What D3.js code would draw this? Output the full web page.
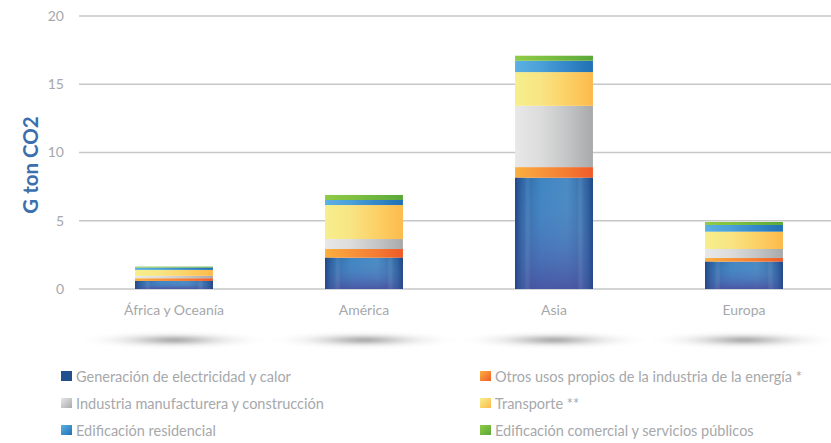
<!DOCTYPE html>
<html>
<head>
<meta charset="utf-8">
<script src="https://cdn.jsdelivr.net/npm/d3@7/dist/d3.min.js"></script>
<style>
  html, body { margin: 0; padding: 0; background: #fff; }
  svg { display: block; font-family: Lato, "Open Sans", sans-serif; }
</style>
</head>
<body>
<svg id="chart" width="831" height="443"></svg>
<script>
// Emisiones de CO2 por región y sector (G ton CO2)
const regions = ["África y Oceanía", "América", "Asia", "Europa"];
const sectors = [
  "Generación de electricidad y calor",
  "Otros usos propios de la industria de la energía *",
  "Industria manufacturera y construcción",
  "Transporte **",
  "Edificación residencial",
  "Edificación comercial y servicios públicos"
];
const electricidad = [0.59, 2.29, 8.15, 2.00];
const otrosEnergia = [0.20, 0.64, 0.78, 0.27];
const manufactura  = [0.17, 0.73, 4.49, 0.66];
const transporte   = [0.44, 2.49, 2.47, 1.27];
const residencial  = [0.17, 0.37, 0.83, 0.49];
const comercial    = [0.07, 0.37, 0.37, 0.22];
const yTicks = [0, 5, 10, 15, 20];

const series = [electricidad, otrosEnergia, manufactura, transporte, residencial, comercial];

// colour ramps (left -> right) for each sector
const ramps = [
  ["#25589a", "#3f85c2", "#4b8bc4", "#285a98"],
  ["#fbb040", "#f7943a", "#f47b32", "#f05a28"],
  ["#e8e8e8", "#dcdcdc", "#c4c5c6", "#a7a9ab"],
  ["#f6ef8c", "#f8e483", "#fcd066", "#fdba4b"],
  ["#5cb0e2", "#4aa0d8", "#3487c8", "#1f70b5"],
  ["#8fcb45", "#80c142", "#6db53e", "#5aa83a"]
];

const svg = d3.select("#chart");
const defs = svg.append("defs");

ramps.forEach((r, i) => {
  const g = defs.append("linearGradient").attr("id", "g" + i)
    .attr("x1", 0).attr("x2", 1).attr("y1", 0).attr("y2", 0);
  r.forEach((c, k) => g.append("stop").attr("offset", k / (r.length - 1)).attr("stop-color", c));
  const s = defs.append("linearGradient").attr("id", "s" + i)
    .attr("x1", 0).attr("x2", 1).attr("y1", 0).attr("y2", 1);
  s.append("stop").attr("offset", 0).attr("stop-color", r[0]);
  s.append("stop").attr("offset", 1).attr("stop-color", r[r.length - 1]);
});

// cylinder-like shading for the bottom (electricity) segment
const edge = defs.append("linearGradient").attr("id", "edge").attr("x1", 0).attr("x2", 1);
[[0, "#1e3f80", 0.8], [0.12, "#3a6fae", 0.3], [0.2, "#ffffff", 0], [0.8, "#ffffff", 0], [0.88, "#3a6fae", 0.3], [1, "#1e3f80", 0.8]]
  .forEach(([o, c, a]) => edge.append("stop").attr("offset", o).attr("stop-color", c).attr("stop-opacity", a));
const vert = defs.append("linearGradient").attr("id", "vert").attr("x1", 0).attr("x2", 0).attr("y1", 0).attr("y2", 1);
vert.append("stop").attr("offset", 0).attr("stop-color", "#5a9ad0").attr("stop-opacity", 0.0);
vert.append("stop").attr("offset", 1).attr("stop-color", "#4a4f9e").attr("stop-opacity", 0.85);

const shadow = defs.append("radialGradient").attr("id", "shadow");
[[0, "#6a6a6a", 0.9], [0.25, "#8a8a8a", 0.6], [0.55, "#bbbbbb", 0.3], [0.8, "#dddddd", 0.12], [1, "#ffffff", 0]]
  .forEach(([o, c, a]) => shadow.append("stop").attr("offset", o).attr("stop-color", c).attr("stop-opacity", a));
defs.append("filter").attr("id", "soft")
  .attr("x", "-20%").attr("y", "-100%").attr("width", "140%").attr("height", "300%")
  .append("feGaussianBlur").attr("stdDeviation", "4 2");

const y = d3.scaleLinear().domain([0, 20]).range([289, 16]);
const x = d3.scaleBand().domain(regions).range([79, 839])
  .paddingInner(0.59).paddingOuter(0.295);

// grid lines
svg.append("g").selectAll("line").data(yTicks).join("line")
  .attr("x1", 79).attr("x2", 831)
  .attr("y1", d => y(d)).attr("y2", d => y(d))
  .attr("stroke", "#c6c7c8").attr("stroke-width", 1.5);

// y axis labels
const yAxis = d3.axisLeft(y).tickValues(yTicks).tickSize(0).tickPadding(0);
svg.append("g").attr("transform", "translate(64,0)").call(yAxis)
  .call(g => g.select(".domain").remove())
  .call(g => g.selectAll("text").attr("fill", "#a6a8ab").attr("font-size", 14)
    .attr("font-family", "Lato, sans-serif"));

// y axis title
svg.append("text")
  .attr("transform", "translate(38,165) rotate(-90)")
  .attr("text-anchor", "middle")
  .attr("fill", "#3b6fae").attr("font-size", 20.5).attr("font-weight", "bold")
  .text("G ton CO2");

// stacked bars
const table = regions.map((r, i) => {
  const o = { region: r };
  series.forEach((s, k) => o[k] = s[i]);
  return o;
});
const stack = d3.stack().keys(series.map((_, k) => k))(table);

const bars = svg.append("g");
stack.forEach((layer, k) => {
  bars.selectAll(null).data(layer).join("rect")
    .attr("x", d => x(d.data.region))
    .attr("width", x.bandwidth())
    .attr("y", d => y(d[1]))
    .attr("height", d => y(d[0]) - y(d[1]))
    .attr("fill", `url(#g${k})`);
});
// shading on the base segment
bars.selectAll(null).data(stack[0]).join("rect")
  .attr("x", d => x(d.data.region)).attr("width", x.bandwidth())
  .attr("y", d => y(d[1])).attr("height", d => y(d[0]) - y(d[1]))
  .attr("fill", "url(#vert)");
bars.selectAll(null).data(stack[0]).join("rect")
  .attr("x", d => x(d.data.region)).attr("width", x.bandwidth())
  .attr("y", d => y(d[1])).attr("height", d => y(d[0]) - y(d[1]))
  .attr("fill", "url(#edge)");

// category labels
const xAxis = d3.axisBottom(x).tickSize(0).tickPadding(0);
svg.append("g").attr("transform", "translate(0,315)").call(xAxis)
  .call(g => g.select(".domain").remove())
  .call(g => g.selectAll("text").attr("fill", "#a6a8ab").attr("font-size", 14)
    .attr("font-family", "Lato, sans-serif").attr("dy", 0));

// floor shadows under each category
svg.append("g").selectAll("ellipse").data(regions).join("ellipse")
  .attr("cx", d => x(d) + x.bandwidth() / 2)
  .attr("cy", 340)
  .attr("rx", 100).attr("ry", 8)
  .attr("fill", "url(#shadow)")
  .attr("filter", "url(#soft)");

// legend
const legend = svg.append("g");
const legendPos = [
  [61, 377], [480, 377],
  [61, 404], [480, 404],
  [61, 431], [480, 431]
];
const item = legend.selectAll("g").data(sectors).join("g")
  .attr("transform", (d, i) => `translate(${legendPos[i][0]},${legendPos[i][1]})`);
item.append("rect").attr("x", 0).attr("y", -6).attr("width", 11).attr("height", 10)
  .attr("fill", (d, i) => i === 0 ? "#22508f" : `url(#s${i})`);
item.append("text").attr("x", 15).attr("y", 5)
  .attr("fill", "#a6a8ab").attr("font-size", 14.5)
  .attr("font-family", "Lato, sans-serif")
  .text(d => d);
</script>
</body>
</html>
